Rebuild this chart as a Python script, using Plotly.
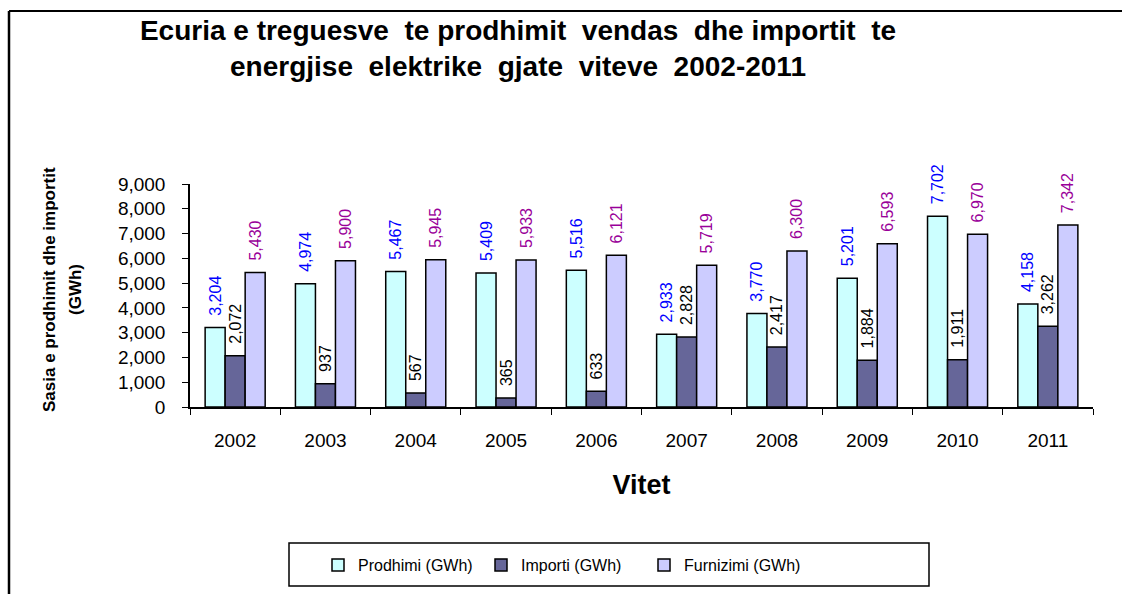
import plotly.graph_objects as go

# Annual electricity figures, 2002-2011 (GWh)
years = ["2002", "2003", "2004", "2005", "2006", "2007", "2008", "2009", "2010", "2011"]
prodhimi = [3204, 4974, 5467, 5409, 5516, 2933, 3770, 5201, 7702, 4158]
importi = [2072, 937, 567, 365, 633, 2828, 2417, 1884, 1911, 3262]
furnizimi = [5430, 5900, 5945, 5933, 6121, 5719, 6300, 6593, 6970, 7342]

series_names = ["Prodhimi (GWh)", "Importi (GWh)", "Furnizimi (GWh)"]
y_ticks = [0, 1000, 2000, 3000, 4000, 5000, 6000, 7000, 8000, 9000]

FONT = "Liberation Sans, Arial, sans-serif"
W, H = 1122, 594
# plot area in pixels
L, R, T, B = 190, 1093, 184, 407


def px(xp):
    return (xp - L) / (R - L)


def py(yp):
    return (B - yp) / (B - T)


fig = go.Figure()

styles = [
    (prodhimi, "#CCFFFF", "#0000FF"),
    (importi, "#666699", "#000000"),
    (furnizimi, "#CCCCFF", "#990099"),
]
for name, (vals, fill, lab) in zip(series_names, styles):
    fig.add_trace(go.Bar(
        name=name,
        x=years,
        y=vals,
        marker=dict(color=fill, line=dict(color="black", width=1.5)),
        texttemplate="\u00a0\u00a0%{y:,}",
        textposition="outside",
        textangle=-90,
        constraintext="none",
        cliponaxis=False,
        textfont=dict(family=FONT, size=16, color=lab),
    ))

shapes = [
    # outer frame (top and left edges)
    dict(type="line", xref="paper", yref="paper",
         x0=px(9), x1=px(W + 5), y0=py(11), y1=py(11),
         line=dict(color="black", width=2)),
    dict(type="line", xref="paper", yref="paper",
         x0=px(9), x1=px(9), y0=py(11), y1=py(H + 5),
         line=dict(color="black", width=2.5)),
    # legend box
    dict(type="rect", xref="paper", yref="paper",
         x0=px(289), x1=px(929), y0=py(543), y1=py(586),
         line=dict(color="black", width=1.5), fillcolor="rgba(0,0,0,0)"),
]

annotations = [
    dict(text="<b>Sasia e prodhimit dhe importit</b>", xref="paper", yref="paper",
         x=px(49), y=py(290), xanchor="center", yanchor="middle",
         textangle=-90, showarrow=False,
         font=dict(family=FONT, size=17, color="black")),
    dict(text="<b>(GWh)</b>", xref="paper", yref="paper",
         x=px(75), y=py(290), xanchor="center", yanchor="middle",
         textangle=-90, showarrow=False,
         font=dict(family=FONT, size=17, color="black")),
]

fig.update_layout(
    width=W, height=H,
    margin=dict(l=L, r=W - R, t=T, b=H - B),
    paper_bgcolor="white", plot_bgcolor="white",
    barmode="group", bargap=0.335, bargroupgap=0,
    title=dict(
        text="<b>Ecuria e treguesve  te prodhimit  vendas  dhe importit  te<br>energjise  elektrike  gjate  viteve  2002-2011</b>",
        xref="container", x=518 / W, xanchor="center",
        yref="container", y=1 - 40 / H, yanchor="middle",
        font=dict(family=FONT, size=28, color="black"),
    ),
    font=dict(family=FONT, color="black"),
    xaxis=dict(
        type="category", tickson="boundaries", ticks="outside", ticklen=6,
        tickcolor="black", showline=True, linecolor="black", linewidth=1.5,
        showgrid=False, tickfont=dict(size=19, family=FONT),
        ticklabelstandoff=15,
        title=dict(text="<b>Vitet</b>", font=dict(size=27, family=FONT), standoff=26),
    ),
    yaxis=dict(
        range=[0, 9000], tickvals=y_ticks, tickformat=",", ticks="outside",
        ticklen=6, tickcolor="black", showline=True, linecolor="black",
        linewidth=1.5, showgrid=False, zeroline=False,
        tickfont=dict(size=19, family=FONT), ticklabelstandoff=13,
    ),
    showlegend=True,
    legend=dict(
        orientation="h", x=px(318), xanchor="left", y=py(565), yanchor="middle",
        bgcolor="rgba(0,0,0,0)", borderwidth=0,
        font=dict(family=FONT, size=16, color="black"),
        entrywidth=118, itemwidth=30,
    ),
    shapes=shapes,
    annotations=annotations,
)

fig.write_html("out.html")
